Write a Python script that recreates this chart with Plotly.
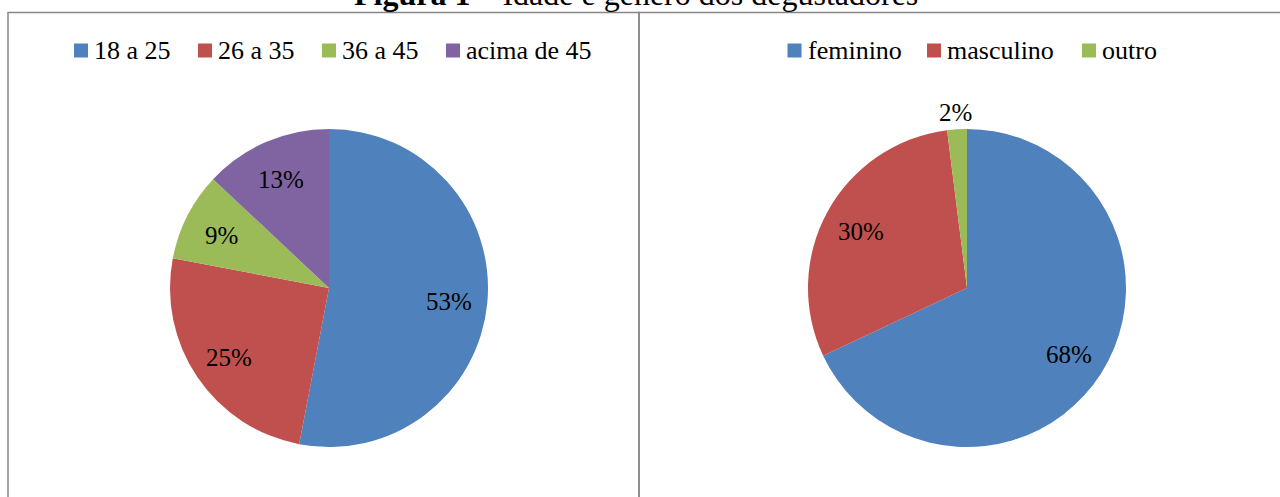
import math
import plotly.graph_objects as go

# Age groups of the tasters (percent)
idade_labels = ["18 a 25", "26 a 35", "36 a 45", "acima de 45"]
idade_values = [53, 25, 9, 13]

# Gender of the tasters (percent)
genero_labels = ["feminino", "masculino", "outro"]
genero_values = [68, 30, 2]

idade_colors = ["#4F81BD", "#C0504D", "#9BBB59", "#8064A2"]
genero_colors = ["#4F81BD", "#C0504D", "#9BBB59"]

W, H = 1280, 497
FONT = "Liberation Serif, Times New Roman, serif"

# pie geometry in pixels (centre x, centre y, radius)
PIES = [(329, 288, 159), (967, 288, 159)]

# legend swatch left edges (pixels) for each chart
LEGEND_X = [[74, 198, 322, 446], [787.5, 927, 1082]]
LEGEND_Y = 50.5
SWATCH = 14


def domain(cx, cy, r):
    return dict(x=[(cx - r) / W, (cx + r) / W],
                y=[1 - (cy + r) / H, 1 - (cy - r) / H])


fig = go.Figure()

fig.add_trace(go.Pie(
    labels=idade_labels, values=idade_values, sort=False,
    direction="clockwise", rotation=0,
    marker=dict(colors=idade_colors, line=dict(width=0)),
    textinfo="none", hoverinfo="label+percent",
    domain=domain(*PIES[0]), showlegend=False,
))
fig.add_trace(go.Pie(
    labels=genero_labels, values=genero_values, sort=False,
    direction="clockwise", rotation=0,
    marker=dict(colors=genero_colors, line=dict(width=0)),
    textinfo="none", hoverinfo="label+percent",
    domain=domain(*PIES[1]), showlegend=False,
))

annotations = []
shapes = []

# percentage labels placed along each slice's mid angle
for (cx, cy, r), vals in zip(PIES, [idade_values, genero_values]):
    total = sum(vals)
    acc = 0
    for v in vals:
        mid = (acc + v / 2) / total * 2 * math.pi
        acc += v
        f = 0.76 if v / total > 0.04 else 1.12
        px = cx + f * r * math.sin(mid)
        py = cy - f * r * math.cos(mid) + 2
        annotations.append(dict(
            x=px / W, y=1 - py / H, xref="paper", yref="paper",
            text=f"{round(v / total * 100)}%", showarrow=False,
            xanchor="center", yanchor="middle",
            font=dict(family=FONT, size=25, color="#000000"),
        ))

# legends: coloured squares followed by their labels
for xs, labels, colors in zip(LEGEND_X, [idade_labels, genero_labels],
                              [idade_colors, genero_colors]):
    for x0, lab, col in zip(xs, labels, colors):
        shapes.append(dict(
            type="rect", xref="paper", yref="paper",
            x0=x0 / W, x1=(x0 + SWATCH) / W,
            y0=1 - (LEGEND_Y + SWATCH / 2) / H,
            y1=1 - (LEGEND_Y - SWATCH / 2) / H,
            fillcolor=col, line=dict(width=0),
        ))
        annotations.append(dict(
            x=(x0 + SWATCH + 5) / W, y=1 - LEGEND_Y / H,
            xref="paper", yref="paper", text=lab, showarrow=False,
            xanchor="left", yanchor="middle", borderpad=0,
            font=dict(family=FONT, size=26, color="#000000"),
        ))

# caption, partly above the top edge
annotations.append(dict(
    x=636 / W, y=1 + 5.5 / H, xref="paper", yref="paper",
    text="<b>Figura 1</b> – Idade e gênero dos degustadores",
    showarrow=False, xanchor="center", yanchor="middle",
    font=dict(family=FONT, size=32, color="#000000"),
))

# chart-area frames
shapes += [
    dict(type="rect", xref="paper", yref="paper",
         x0=8 / W, x1=639 / W, y0=-0.1, y1=1 - 12.5 / H,
         line=dict(color="#868686", width=1.5)),
    dict(type="rect", xref="paper", yref="paper",
         x0=639 / W, x1=1.1, y0=-0.1, y1=1 - 12.5 / H,
         line=dict(color="#868686", width=1.5)),
]

fig.update_layout(
    width=W, height=H,
    margin=dict(l=0, r=0, t=0, b=0),
    paper_bgcolor="#FFFFFF", plot_bgcolor="#FFFFFF",
    showlegend=False,
    annotations=annotations,
    shapes=shapes,
)

fig.write_html("out.html")
